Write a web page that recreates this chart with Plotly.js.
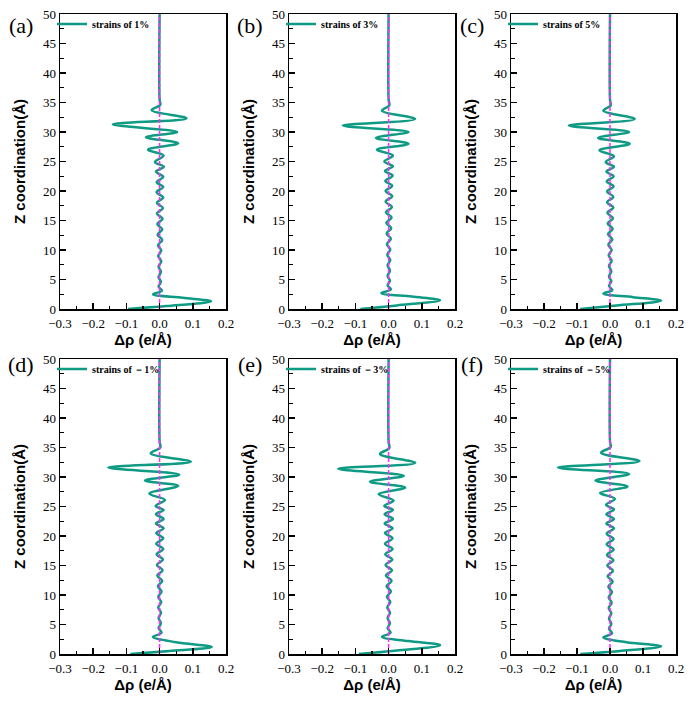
<!DOCTYPE html>
<html>
<head>
<meta charset="utf-8">
<script src="https://cdn.plot.ly/plotly-3.0.1.min.js"></script>
<style>
  html, body { margin: 0; padding: 0; background: #fff; }
  #chart { width: 692px; height: 701px; }
</style>
</head>
<body>
<div id="chart"></div>
<script>
// Charge density difference profiles along Z for six strain states
const panelTags = ['(a)', '(b)', '(c)', '(d)', '(e)', '(f)'];
const strainNames = ['strains of 1%', 'strains of 3%', 'strains of 5%',
                     'strains of －1%', 'strains of －3%', 'strains of －5%'];

const z_a = [0, 0.5, 1.3, 1.9, 2.5, 3.1, 3.8, 4.6, 5.4, 6.3, 7.2, 8.1, 9.0, 9.9, 10.8, 11.7, 12.6, 13.5, 14.4, 15.3, 16.2, 17.1, 18.0, 18.9, 19.8, 20.7, 21.5, 22.4, 23.3, 24.1, 24.9, 26.0, 27.0, 28.1, 29.1, 30.0, 31.3, 32.3, 33.7, 34.6, 35.5, 50];
const drho_a = [-0.095, 0.02, 0.155, 0.07, -0.02, 0.007, -0.003, 0.004, -0.003, 0.004, -0.003, 0.005, -0.004, 0.005, -0.005, 0.008, -0.006, 0.008, -0.007, 0.009, -0.008, 0.010, -0.008, 0.011, -0.009, 0.011, -0.009, 0.011, -0.011, 0.013, -0.014, 0.012, -0.035, 0.056, -0.041, 0.053, -0.141, 0.081, -0.024, 0.002, 0, 0];

const z_b = [0, 0.6, 1.5, 2.1, 2.7, 3.3, 4.0, 4.8, 5.6, 6.5, 7.4, 8.3, 9.2, 10.1, 11.0, 11.9, 12.8, 13.7, 14.6, 15.5, 16.4, 17.3, 18.2, 19.1, 20.0, 20.9, 21.7, 22.6, 23.4, 24.2, 25.0, 26.0, 27.0, 28.0, 29.0, 30.0, 31.1, 32.2, 33.6, 34.5, 35.5, 50];
const drho_b = [-0.085, 0.025, 0.155, 0.07, -0.022, 0.007, -0.003, 0.004, -0.003, 0.004, -0.003, 0.005, -0.004, 0.005, -0.005, 0.007, -0.006, 0.008, -0.007, 0.009, -0.008, 0.010, -0.009, 0.011, -0.009, 0.011, -0.010, 0.012, -0.011, 0.013, -0.013, 0.013, -0.035, 0.060, -0.038, 0.060, -0.138, 0.080, -0.020, 0.002, 0, 0];

const z_c = [0, 0.6, 1.4, 2.0, 2.6, 3.2, 3.9, 4.7, 5.5, 6.4, 7.3, 8.2, 9.1, 10.0, 10.9, 11.8, 12.7, 13.6, 14.5, 15.4, 16.3, 17.2, 18.1, 19.0, 19.9, 20.8, 21.6, 22.5, 23.3, 24.1, 24.9, 25.9, 26.9, 28.0, 29.0, 30.0, 31.1, 32.2, 33.6, 34.5, 35.5, 50];
const drho_c = [-0.09, 0.02, 0.155, 0.07, -0.02, 0.007, -0.003, 0.004, -0.003, 0.004, -0.003, 0.005, -0.004, 0.005, -0.005, 0.007, -0.006, 0.008, -0.007, 0.009, -0.008, 0.010, -0.009, 0.010, -0.009, 0.011, -0.010, 0.011, -0.011, 0.012, -0.013, 0.012, -0.032, 0.060, -0.036, 0.058, -0.125, 0.075, -0.020, 0.002, 0, 0];

const z_d = [0, 0.5, 1.2, 2.0, 2.9, 3.6, 4.4, 5.2, 6.1, 7.0, 7.9, 8.8, 9.7, 10.6, 11.5, 12.4, 13.3, 14.2, 15.1, 16.0, 16.9, 17.8, 18.7, 19.6, 20.5, 21.3, 22.1, 22.9, 23.7, 24.4, 25.1, 26.1, 27.2, 28.5, 29.4, 30.4, 31.6, 32.6, 34.0, 35.0, 36.0, 50];
const drho_d = [-0.088, 0.03, 0.157, 0.05, -0.02, 0.006, -0.003, 0.004, -0.003, 0.004, -0.004, 0.005, -0.004, 0.006, -0.005, 0.008, -0.007, 0.009, -0.008, 0.010, -0.009, 0.011, -0.010, 0.011, -0.010, 0.012, -0.011, 0.012, -0.011, 0.012, -0.012, 0.016, -0.031, 0.056, -0.044, 0.059, -0.155, 0.094, -0.027, 0.002, 0, 0];

const z_e = [0, 0.6, 1.5, 2.2, 2.9, 3.6, 4.4, 5.2, 6.1, 7.0, 7.9, 8.8, 9.7, 10.6, 11.5, 12.4, 13.3, 14.2, 15.1, 16.0, 16.9, 17.8, 18.7, 19.6, 20.5, 21.3, 22.1, 22.9, 23.7, 24.4, 25.1, 26.0, 27.1, 28.2, 29.2, 30.2, 31.4, 32.4, 33.9, 34.9, 36.0, 50];
const drho_e = [-0.09, 0.025, 0.155, 0.06, -0.02, 0.006, -0.003, 0.004, -0.003, 0.004, -0.004, 0.005, -0.005, 0.007, -0.006, 0.009, -0.008, 0.010, -0.009, 0.011, -0.010, 0.012, -0.011, 0.012, -0.011, 0.012, -0.012, 0.013, -0.012, 0.013, -0.013, 0.015, -0.030, 0.050, -0.056, 0.046, -0.152, 0.080, -0.026, 0.002, 0, 0];

const z_f = [0, 0.5, 1.3, 2.0, 2.8, 3.5, 4.3, 5.1, 6.0, 6.9, 7.8, 8.7, 9.6, 10.5, 11.4, 12.3, 13.2, 14.1, 15.0, 15.9, 16.8, 17.7, 18.6, 19.5, 20.4, 21.3, 22.1, 22.9, 23.7, 24.5, 25.3, 26.3, 27.3, 28.4, 29.4, 30.5, 31.6, 32.7, 34.1, 35.1, 36.0, 50];
const drho_f = [-0.09, 0.03, 0.155, 0.05, -0.02, 0.006, -0.003, 0.004, -0.003, 0.004, -0.004, 0.005, -0.004, 0.006, -0.005, 0.008, -0.007, 0.009, -0.008, 0.010, -0.009, 0.011, -0.010, 0.011, -0.010, 0.012, -0.011, 0.012, -0.011, 0.012, -0.012, 0.015, -0.030, 0.053, -0.044, 0.058, -0.158, 0.089, -0.027, 0.002, 0, 0];

const zSets = [z_a, z_b, z_c, z_d, z_e, z_f];
const drhoSets = [drho_a, drho_b, drho_c, drho_d, drho_e, drho_f];

const curveColor = '#0f9a84';
const refColor = '#ff2bff';
const W = 692, H = 701;

// Plot frames in pixels: columns and rows
const cols = [[60, 226], [289, 455], [511, 676]];
const rows = [[14, 309], [359, 654]];

const traces = [];
const layout = {
  width: W, height: H,
  margin: {l: 0, r: 0, t: 0, b: 0},
  paper_bgcolor: '#fff', plot_bgcolor: '#fff',
  showlegend: true,
  annotations: []
};

const serif = '"Liberation Serif", "Times New Roman", Times, serif';
const sans = '"Liberation Sans", Arial, Helvetica, sans-serif';
const tickFont = {family: serif, size: 13, color: '#000'};
const titleFont = {family: sans, size: 15, color: '#000', weight: 'bold'};

for (let i = 0; i < 6; i++) {
  const n = i + 1;
  const sfx = n === 1 ? '' : String(n);
  const col = cols[i % 3], row = rows[Math.floor(i / 3)];
  const xa = 'xaxis' + sfx, ya = 'yaxis' + sfx;
  const lg = 'legend' + sfx;

  traces.push({
    x: drhoSets[i], y: zSets[i], xaxis: 'x' + sfx, yaxis: 'y' + sfx,
    type: 'scatter', mode: 'lines', name: strainNames[i],
    line: {color: curveColor, width: 2.5, shape: 'spline', smoothing: 1},
    legend: lg, showlegend: true
  });
  traces.push({
    x: [0, 0], y: [0, 50], xaxis: 'x' + sfx, yaxis: 'y' + sfx,
    type: 'scatter', mode: 'lines', showlegend: false,
    line: {color: refColor, width: 1.5, dash: '4px,2px'}
  });

  layout[xa] = {
    domain: [col[0] / W, col[1] / W], anchor: 'y' + sfx,
    range: [-0.3, 0.2], dtick: 0.1, tick0: 0, tickformat: '.1f',
    ticks: 'inside', ticklen: 6, tickwidth: 1.5, tickcolor: '#000',
    minor: {dtick: 0.05, ticks: 'inside', ticklen: 3.5, tickwidth: 1.2, tickcolor: '#000'},
    showline: true, linecolor: '#000', linewidth: 1.5, mirror: true,
    showgrid: false, zeroline: false, fixedrange: true,
    tickfont: tickFont, ticklabelstandoff: 2,
    title: {text: 'Δρ (e/Å)', font: titleFont, standoff: 3}
  };
  layout[ya] = {
    domain: [(H - row[1]) / H, (H - row[0]) / H], anchor: 'x' + sfx,
    range: [0, 50], dtick: 5, tick0: 0,
    ticks: 'inside', ticklen: 6, tickwidth: 1.5, tickcolor: '#000',
    minor: {dtick: 2.5, ticks: 'inside', ticklen: 3.5, tickwidth: 1.2, tickcolor: '#000'},
    showline: true, linecolor: '#000', linewidth: 1.5, mirror: true,
    showgrid: false, zeroline: false, fixedrange: true,
    tickfont: tickFont,
    title: {text: 'Z coordination(Å)', font: titleFont, standoff: 13}
  };
  layout[lg] = {
    x: (col[0] - 8) / W, xanchor: 'left',
    y: (H - (row[0] + 10)) / H, yanchor: 'middle',
    bgcolor: 'rgba(0,0,0,0)', borderwidth: 0,
    font: {family: serif, size: 10, color: '#000', weight: 'bold'},
    itemwidth: 30
  };
  layout.annotations.push({
    text: panelTags[i], xref: 'paper', yref: 'paper', showarrow: false,
    x: (col[0] - 39) / W, y: (H - (row[0] + (i < 3 ? 12 : 5))) / H,
    xanchor: 'center', yanchor: 'middle',
    font: {family: serif, size: 22, color: '#000'}
  });
}

Plotly.newPlot('chart', traces, layout, {staticPlot: true, displayModeBar: false});
</script>
</body>
</html>
